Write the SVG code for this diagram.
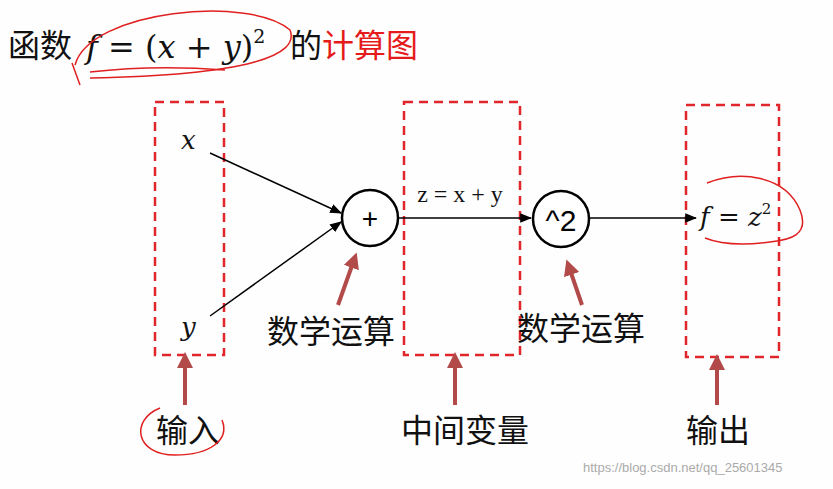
<svg xmlns="http://www.w3.org/2000/svg" width="833" height="489" viewBox="0 0 833 489">
<defs>
<style>
.box{fill:none;stroke:#e0262b;stroke-width:2.5;stroke-dasharray:9 6}
.ln{stroke:#000;stroke-width:1.5;fill:none}
.up{stroke:#b34a4a;stroke-width:4;fill:none}
.cn{font-family:"Noto Sans CJK SC","Noto Sans",sans-serif;font-size:32px;fill:#111}
.m{font-family:"DejaVu Serif","Liberation Serif",serif;font-style:italic;font-size:26px;fill:#111}
.hand{fill:none;stroke:#e02020;stroke-width:1.5}
</style>
<marker id="a" viewBox="0 0 10 10" refX="9" refY="5" markerWidth="8" markerHeight="8" orient="auto"><path d="M0,1 L10,5 L0,9 z" fill="#000"/></marker>
<marker id="b" viewBox="0 0 10 10" refX="5" refY="5" markerWidth="4" markerHeight="4" orient="auto"><path d="M0,0 L10,5 L0,10 z" fill="#b34a4a"/></marker>
</defs>
<rect width="833" height="489" fill="#fefefe"/>
<g id="title">
<text x="8" y="57" class="cn" font-size="34">函数</text>
<text x="86" y="58" font-family="DejaVu Serif,serif" font-size="32" fill="#111"><tspan font-style="italic">f</tspan> = (<tspan font-style="italic">x</tspan> + <tspan font-style="italic">y</tspan>)<tspan font-size="19" dy="-15">2</tspan></text>
<text x="290" y="57" class="cn" font-size="34">的<tspan fill="#e51b1b">计算图</tspan></text>
<path class="hand" d="M75,65 C90,10 250,-5 290,30 C300,55 250,75 90,78 M72,63 L80,85 M90,72 C150,65 200,68 225,70"/>
</g>
<g id="box-input"><rect class="box" x="155" y="102" width="69" height="253"/></g>
<g id="box-mid"><rect class="box" x="404" y="102" width="116" height="253"/></g>
<g id="box-out"><rect class="box" x="686" y="105" width="93" height="252"/></g>
<g id="node-x"><text class="m" x="181" y="149">x</text></g>
<g id="node-y"><text class="m" x="181" y="336">y</text></g>
<g id="node-plus"><circle cx="370" cy="218" r="28" fill="#fff" stroke="#000" stroke-width="2.5"/><text x="370" y="228" text-anchor="middle" font-family="Liberation Sans,sans-serif" font-size="28">+</text></g>
<g id="node-sq"><circle cx="561" cy="219" r="28" fill="#fff" stroke="#000" stroke-width="2.5"/><text x="561" y="231" text-anchor="middle" font-family="Liberation Sans,sans-serif" font-size="30">^2</text></g>
<g id="node-f"><text x="700" y="226" font-family="DejaVu Serif,serif" font-size="26" fill="#111"><tspan font-style="italic">f</tspan> = <tspan font-style="italic">z</tspan><tspan font-size="15" dy="-12">2</tspan></text>
<path class="hand" d="M707,183 C740,170 785,175 800,210 C810,235 790,240 770,242 C740,246 720,244 705,238"/></g>
<g id="connectors">
<line class="ln" x1="210" y1="153" x2="341" y2="213" marker-end="url(#a)"/>
<line class="ln" x1="210" y1="316" x2="341" y2="222" marker-end="url(#a)"/>
<line class="ln" x1="398" y1="218" x2="531" y2="218" marker-end="url(#a)"/>
<line class="ln" x1="589" y1="218" x2="696" y2="218" marker-end="url(#a)"/>
<text x="460" y="202" text-anchor="middle" font-family="Liberation Serif,serif" font-size="24" fill="#111">z = x + y</text>
<line class="up" x1="185" y1="405" x2="185" y2="360" marker-end="url(#b)"/>
<line class="up" x1="455" y1="405" x2="455" y2="360" marker-end="url(#b)"/>
<line class="up" x1="717" y1="405" x2="717" y2="362" marker-end="url(#b)"/>
<line class="up" x1="338" y1="305" x2="354" y2="260" marker-end="url(#b)"/>
<line class="up" x1="582" y1="305" x2="569" y2="267" marker-end="url(#b)"/>
</g>
<g id="labels">
<text class="cn" x="188" y="442" text-anchor="middle">输入</text>
<path class="hand" d="M160,408 C130,420 135,455 175,455 C210,455 230,440 222,420"/>
<text class="cn" x="465" y="442" text-anchor="middle">中间变量</text>
<text class="cn" x="718" y="442" text-anchor="middle">输出</text>
<text class="cn" x="331" y="343" text-anchor="middle">数学运算</text>
<text class="cn" x="581" y="340" text-anchor="middle">数学运算</text>
<text x="583" y="472" font-family="Liberation Sans,sans-serif" font-size="13" fill="#aaa">https://blog.csdn.net/qq_25601345</text>
</g>
</svg>
